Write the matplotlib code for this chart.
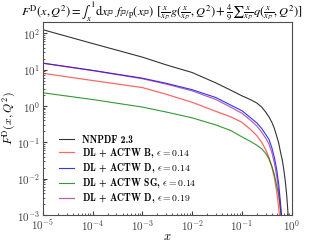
import matplotlib
matplotlib.use('Agg')
import matplotlib.pyplot as plt

plt.rcParams['mathtext.fontset'] = 'cm'
plt.rcParams['font.family'] = 'serif'
plt.rcParams['font.serif'] = ['cmr10', 'DejaVu Serif']
plt.rcParams['axes.formatter.use_mathtext'] = True

# x values shared by all curves
x = [1e-5, 1e-4, 1e-3, 3e-3, 1e-2, 3e-2, 0.06, 0.1, 0.15, 0.2, 0.25, 0.3,
     0.35, 0.4, 0.45, 0.5, 0.55, 0.6, 0.65]
x_nnpdf = x + [0.7, 0.75, 0.8, 0.85, 0.9]

# F^D(x, Q^2)
f_nnpdf = [125, 52, 22, 13.5, 8.3, 4.3, 2.7, 1.9, 1.48, 1.2, 0.93, 0.68,
           0.5, 0.355, 0.24, 0.148, 0.095, 0.052, 0.032,
           0.0166, 0.0079, 0.0032, 0.001, 0.00025]
f_b = [7.9, 5.0, 3.2, 2.1, 1.26, 0.71, 0.50, 0.355, 0.224, 0.151, 0.10, 0.063,
       0.038, 0.021, 0.0105, 0.0045, 0.0016, 0.0004, 0.0001]
f_d = [15, 9.5, 5.8, 4.2, 2.8, 1.7, 1.05, 0.74, 0.47, 0.34, 0.24, 0.166,
       0.12, 0.071, 0.038, 0.018, 0.007, 0.002, 0.0005]
f_sg = [2.3, 1.5, 0.93, 0.68, 0.47, 0.30, 0.21, 0.141, 0.105, 0.083, 0.066, 0.05,
        0.035, 0.022, 0.013, 0.0063, 0.0035, 0.0014, 0.0005]
f_d19 = [15, 9.4, 5.6, 4.0, 2.6, 1.5, 0.92, 0.63, 0.40, 0.28, 0.19, 0.13,
         0.09, 0.052, 0.027, 0.012, 0.0045, 0.0013, 0.0003]

fig = plt.figure(figsize=(3.17, 2.47), dpi=100)
ax = fig.add_axes([0.1356, 0.1296, 0.7844, 0.7801])

ax.plot(x_nnpdf, f_nnpdf, color='black', lw=0.8, alpha=0.8, label='NNPDF 2.3')
ax.plot(x, f_b, color='red', lw=0.9, alpha=0.6, label=r'DL + ACTW B, $\epsilon = 0.14$')
ax.plot(x, f_d, color='blue', lw=0.8, alpha=0.8, label=r'DL + ACTW D, $\epsilon = 0.14$')
ax.plot(x, f_sg, color='green', lw=0.8, alpha=0.8, label=r'DL + ACTW SG, $\epsilon = 0.14$')
ax.plot(x, f_d19, color='purple', lw=0.9, alpha=0.6, label=r'DL + ACTW D, $\epsilon = 0.19$')

ax.set_xscale('log')
ax.set_yscale('log')
ax.set_xlim(1e-5, 1)
ax.set_ylim(1e-3, 2e2)

ax.tick_params(which='both', direction='in', labelsize=8, colors='0.25', pad=2)
ax.tick_params(which='major', length=3)
ax.tick_params(which='minor', length=1.5)
for s in ax.spines.values():
    s.set_color('0.3')

ax.set_xlabel(r'$x$', fontsize=9)
ax.set_ylabel(r'$F^{\rm D}(x,Q^2)$', fontsize=8.5)
ax.xaxis.set_label_coords(0.5, -0.085)
ax.yaxis.set_label_coords(-0.1, 0.5)

# stix keeps the integral sign at text size, as in the reference title
fig.text(0.51, 0.955,
         r'$F^{\rm D}(x,Q^2) = \int_x^1 {\rm d}x_{\mathbb{P}}\ f_{\mathbb{P}/{\rm p}}(x_{\mathbb{P}})\ '
         r'[\frac{x}{x_{\mathbb{P}}}g(\frac{x}{x_{\mathbb{P}}},Q^2) + \frac{4}{9}\sum\frac{x}{x_{\mathbb{P}}}'
         r'q(\frac{x}{x_{\mathbb{P}}},Q^2)]$', fontsize=8.9, ha='center', va='center',
         math_fontfamily='stix')

leg = ax.legend(loc='lower left', frameon=False, prop={'family': 'cmb10', 'size': 7},
                handlelength=1.55, labelspacing=0.12, borderaxespad=0.6,
                bbox_to_anchor=(0.025, 0.0))

fig.savefig('out.png', dpi=100)
